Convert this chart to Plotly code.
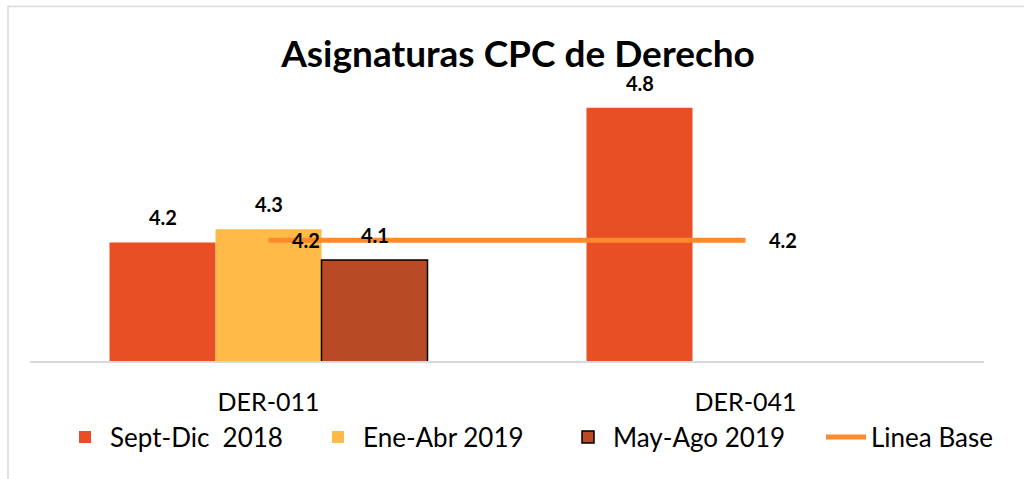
import plotly.graph_objects as go

categories = ["DER-011", "DER-041"]
series_names = ["Sept-Dic  2018", "Ene-Abr 2019", "May-Ago 2019"]
sept_dic_2018 = [4.20, 4.81]
ene_abr_2019 = [4.26, None]
may_ago_2019 = [4.12, None]
linea_base = [4.21, 4.21]

colors = ["#E84F25", "#FFBA47", "#B84A26"]
outline = [None, None, "#000000"]
legend_ids = ["legend", "legend", "legend2"]
series_values = [sept_dic_2018, ene_abr_2019, may_ago_2019]

BARGAP = 1 / 3
FONT = "Lato, 'Open Sans', sans-serif"

fig = go.Figure()
for name, vals, col, oc, lg in zip(series_names, series_values, colors, outline, legend_ids):
    fig.add_trace(go.Bar(
        name=name, x=categories, y=vals, legend=lg,
        marker=dict(color=col,
                    line=dict(color=oc if oc else col, width=1.5 if oc else 0)),
    ))

fig.add_trace(go.Scatter(
    name="Linea Base", x=categories, y=linea_base, mode="lines", legend="legend2",
    line=dict(color="#FF8A2B", width=5),
))

annotations = []
n = len(series_values)
bw = (1 - BARGAP) / n
for k, vals in enumerate(series_values):
    off = (k - (n - 1) / 2) * bw
    for i, v in enumerate(vals):
        if v is None:
            continue
        annotations.append(dict(
            x=i + off, y=v, xref="x", yref="y", text=f"{v:.1f}",
            showarrow=False, yanchor="bottom", yshift=11,
            font=dict(family=FONT, size=20, color="#000000", weight="bold"),
        ))
for i, v in enumerate(linea_base):
    annotations.append(dict(
        x=i, y=v, xref="x", yref="y", text=f"{v:.1f}",
        showarrow=False, xanchor="left", yanchor="middle", xshift=21,
        font=dict(family=FONT, size=20, color="#000000", weight="bold"),
    ))

L, R, T, B = 30, 40, 85, 118
W, H = 1024, 479
pw, ph = W - L - R, H - T - B

def px_x(px):
    return (px - L) / pw

def px_y(py):
    return (H - B - py) / ph

legend_common = dict(orientation="h", xref="container", yref="container",
                     xanchor="left", y=1 - 437 / H, yanchor="middle",
                     font=dict(family=FONT, size=26, color="#000000"),
                     bgcolor="rgba(0,0,0,0)", itemwidth=40, traceorder="normal")

fig.update_layout(
    width=W, height=H,
    margin=dict(l=L, r=R, t=T, b=B, autoexpand=False),
    paper_bgcolor="white", plot_bgcolor="white",
    barmode="group", bargap=BARGAP, bargroupgap=0,
    title=dict(text="<b>Asignaturas CPC de Derecho</b>", x=518 / W, xref="container",
               xanchor="center", y=1 - 54 / H, yref="container", yanchor="middle",
               font=dict(family=FONT, size=37, color="#000000")),
    xaxis=dict(showline=True, linecolor="#D9D9D9", linewidth=2,
               ticks="outside", ticklen=18, tickcolor="rgba(0,0,0,0)",
               tickfont=dict(family=FONT, size=25, color="#000000"),
               showgrid=False, zeroline=False, automargin=False),
    yaxis=dict(range=[3.663, 4.913], visible=False, showgrid=False, zeroline=False),
    legend=dict(x=60 / W, entrywidth=198, **legend_common),
    legend2=dict(x=563 / W, entrywidth=203, **legend_common),
    annotations=annotations,
    shapes=[dict(type="rect", xref="paper", yref="paper",
                 x0=px_x(8), x1=px_x(1034), y0=px_y(490), y1=px_y(6.5),
                 line=dict(color="#D9D9D9", width=1.5), layer="below")],
    showlegend=True,
)

fig.write_html("out.html", config={"displayModeBar": False},
               post_script="document.body.style.margin='0';document.body.style.overflow='hidden';")
